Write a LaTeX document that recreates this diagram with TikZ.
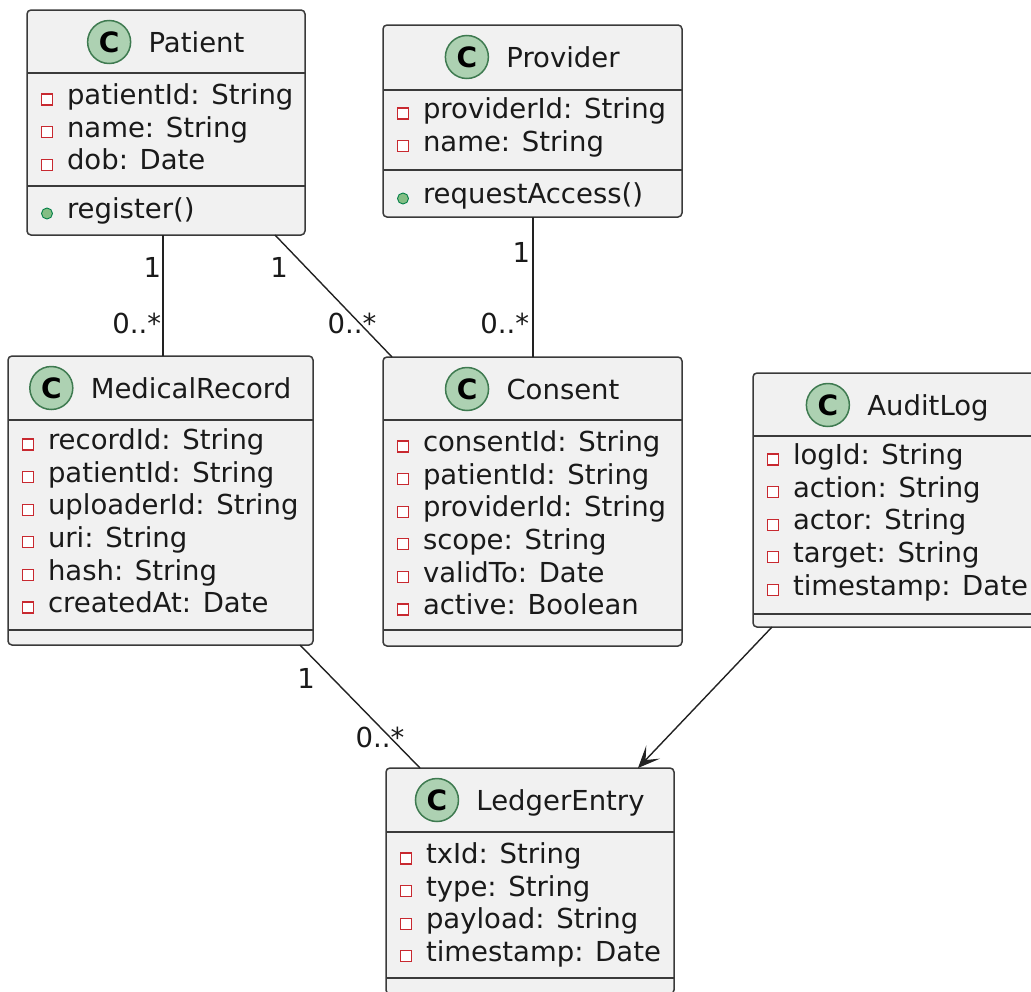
\documentclass[tikz,border=0pt]{standalone}
\usepackage{fontspec}
\setmainfont{DejaVu Sans}
\usetikzlibrary{arrows.meta}

\definecolor{boxfill}{HTML}{F1F1F1}
\definecolor{boxline}{HTML}{3A3A3A}
\definecolor{wire}{HTML}{222222}
\definecolor{badgefill}{HTML}{ADD1B2}
\definecolor{badgeline}{HTML}{3E7A50}
\definecolor{privline}{HTML}{C82930}
\definecolor{pubfill}{HTML}{84BE84}
\definecolor{publine}{HTML}{038048}
\definecolor{ink}{HTML}{1A1A1A}

\tikzset{
  every node/.style={inner sep=0pt, outer sep=0pt, text=ink,
    font=\fontsize{27.5}{33}\selectfont},
  classbox/.style={draw=boxline, fill=boxfill, line width=1.5pt,
    rounded corners=4pt, anchor=north west},
  divider/.style={draw=boxline, line width=1.3pt},
  classname/.style={text height=20pt, text depth=0pt},
  badge/.style={circle, draw=badgeline, fill=badgefill, line width=1.5pt,
    minimum size=43pt, text=black, font=\fontsize{28}{28}\selectfont\bfseries},
  member/.style={anchor=west, text height=20pt, text depth=6.5pt},
  privmark/.style={draw=privline, fill=white, line width=1.2pt, minimum size=11pt},
  pubmark/.style={circle, draw=publine, fill=pubfill, line width=0.9pt, minimum size=11pt},
  assoc/.style={draw=wire, line width=1.4pt},
  mult/.style={},
}

% class members: #1 class node, #2 offset of first line from the top,
% #3 marker style, #4 list of entries
\newcommand\members[4]{%
  \foreach \m [count=\k from 0] in {#4} {
    \node[member] at ([xshift=40pt, yshift={-(#2+32.6*\k)*1pt}]#1.north west) {\m};
    \node[#3] at ([xshift=20pt, yshift={-(#2+1.5+32.6*\k)*1pt}]#1.north west) {};
  }%
}
% horizontal compartment divider at #2 below the top of class #1
\newcommand\compline[2]{%
  \draw[divider] ([yshift=-#2pt]#1.north west) -- ([yshift=-#2pt]#1.north east);%
}
% class header: #1 class node, #2 class name
\newcommand\classhead[2]{%
  \node[classname] (#1-name) at ([xshift=30.5pt, yshift=-32pt]#1.north) {#2};
  \node[badge] (#1-badge) at ([xshift=-39.5pt]#1-name.west) {C};%
}

\begin{document}
\begin{tikzpicture}[x=1pt, y=-1pt]
\useasboundingbox (0,0) rectangle (1031,991);

% ---- Patient
\node[classbox, minimum width=278pt, minimum height=225pt] (patient) at (27,10) {};
\classhead{patient}{Patient}
\compline{patient}{63}
\members{patient}{88}{privmark}{patientId: String, name: String, dob: Date}
\compline{patient}{176}
\members{patient}{202}{pubmark}{register()}

% ---- Provider
\node[classbox, minimum width=299pt, minimum height=192pt] (provider) at (383,25) {};
\classhead{provider}{Provider}
\compline{provider}{65}
\members{provider}{87}{privmark}{providerId: String, name: String}
\compline{provider}{145}
\members{provider}{172}{pubmark}{requestAccess()}

% ---- MedicalRecord
\node[classbox, minimum width=305pt, minimum height=289pt] (record) at (8,356) {};
\classhead{record}{MedicalRecord}
\compline{record}{64}
\members{record}{87}{privmark}{recordId: String, patientId: String, uploaderId: String, uri: String, hash: String, createdAt: Date}
\compline{record}{274}

% ---- Consent
\node[classbox, minimum width=299pt, minimum height=289pt] (consent) at (383,357) {};
\classhead{consent}{Consent}
\compline{consent}{63}
\members{consent}{88}{privmark}{consentId: String, patientId: String, providerId: String, scope: String, validTo: Date, active: Boolean}
\compline{consent}{273}

% ---- AuditLog
\node[classbox, minimum width=289pt, minimum height=254pt] (audit) at (753,373) {};
\classhead{audit}{AuditLog}
\compline{audit}{63}
\members{audit}{85}{privmark}{logId: String, action: String, actor: String, target: String, timestamp: Date}
\compline{audit}{241}

% ---- LedgerEntry
\node[classbox, minimum width=288pt, minimum height=226pt] (ledger) at (386,768) {};
\classhead{ledger}{LedgerEntry}
\compline{ledger}{64}
\members{ledger}{89}{privmark}{txId: String, type: String, payload: String, timestamp: Date}
\compline{ledger}{210}

% ---- associations
\draw[assoc] ([xshift=136pt]patient.south west) -- ([xshift=155pt]record.north west);
\draw[assoc] ([xshift=248pt]patient.south west) -- ([xshift=9pt]consent.north west);
\draw[assoc] ([xshift=150pt]provider.south west) -- ([xshift=150pt]consent.north west);
\draw[assoc] ([xshift=292pt]record.south west) -- ([xshift=34pt]ledger.north west);
\draw[assoc, -{Stealth[length=22pt, width=19pt, inset=11pt]}]
  ([xshift=19pt]audit.south west) -- ([xshift=252pt]ledger.north west);

% ---- multiplicities
\node[mult, anchor=east] (m1) at (161,267) {1};
\node[mult, anchor=east] (m2) at (161,323) {0..*};
\node[mult] (m3) at (279,267) {1};
\node[mult] (m4) at (352,323) {0..*};
\node[mult, anchor=east] (m5) at (530,252) {1};
\node[mult, anchor=east] (m6) at (529,323) {0..*};
\node[mult] (m7) at (306,678) {1};
\node[mult] (m8) at (380,737) {0..*};
\end{tikzpicture}
\end{document}
